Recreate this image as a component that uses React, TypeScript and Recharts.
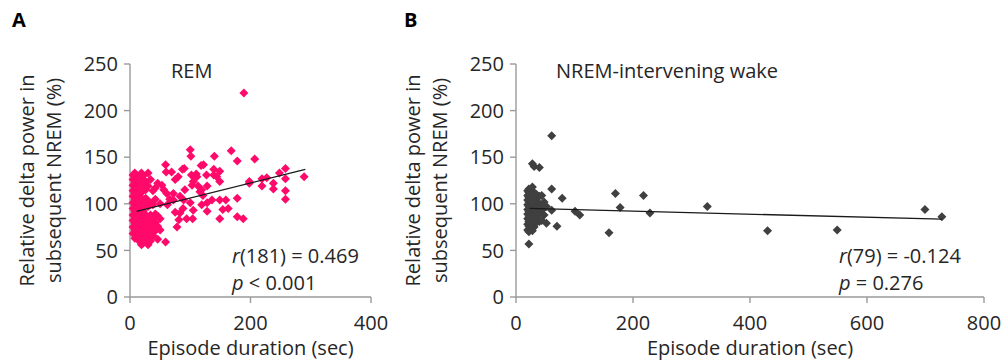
import { Scatter, ScatterChart, XAxis, YAxis } from "recharts";

const FONT = "'Open Sans', sans-serif";

// REM episodes: [duration (sec), relative delta power (%)]
const remPoints: [number, number][] = [
  [5, 68], [5, 75], [5, 82], [5, 88], [5, 95], [5, 101], [5, 108], [5, 114], [5, 120], [5, 126], [5, 131],
  [8, 63], [8, 72], [8, 79], [8, 86], [8, 92], [8, 98], [8, 104], [8, 111], [8, 117], [8, 123], [8, 129], [8, 133],
  [12, 66], [12, 77], [12, 84], [12, 90], [12, 96], [12, 102], [12, 107], [12, 113], [12, 119], [12, 125], [12, 130],
  [15, 60], [15, 70], [15, 80], [15, 87], [15, 93], [15, 99], [15, 105], [15, 110], [15, 116], [15, 122], [15, 128],
  [19, 56], [19, 64], [19, 74], [19, 83], [19, 89], [19, 95], [19, 101], [19, 106], [19, 112], [19, 118], [19, 126], [19, 133],
  [22, 58], [22, 68], [22, 78], [22, 86], [22, 92], [22, 98], [22, 104], [22, 121], [22, 130],
  [26, 62], [26, 72], [26, 80], [26, 88], [26, 100], [26, 106], [26, 115], [26, 124],
  [30, 56], [30, 66], [30, 76], [30, 84], [30, 97], [30, 103], [30, 119], [30, 133],
  [34, 60], [34, 70], [34, 81], [34, 88], [34, 101], [34, 126],
  [38, 66], [38, 75], [38, 85], [38, 99], [38, 114],
  [42, 71], [42, 80], [42, 89], [42, 105], [42, 117],
  [46, 62], [46, 76], [46, 87], [46, 122],
  [50, 72], [50, 84], [50, 100],
  [53, 120], [56, 115], [59, 142], [60, 134], [61, 111], [59, 59], [62, 99], [66, 105], [69, 134], [72, 111],
  [72, 104], [75, 126], [75, 91], [78, 75], [80, 129], [81, 83], [83, 90], [83, 108], [87, 137], [88, 95],
  [89, 104], [90, 138], [91, 115], [94, 84], [100, 101], [100, 158], [101, 151], [102, 131], [103, 120], [104, 84],
  [105, 93], [105, 124], [110, 132], [111, 129], [113, 119], [116, 113], [118, 141], [119, 99], [119, 115], [121, 109],
  [122, 142], [127, 131], [128, 119], [128, 101], [128, 92], [136, 104], [139, 137], [139, 131], [140, 151], [144, 129],
  [149, 135], [149, 124], [149, 104], [149, 84], [154, 94], [159, 104], [163, 95], [168, 157], [178, 146], [178, 106],
  [178, 86], [188, 84], [189, 219], [198, 124], [198, 122], [207, 148], [219, 127], [227, 128], [219, 119], [238, 122],
  [238, 116], [248, 133], [258, 138], [258, 127], [258, 114], [258, 105], [289, 129],
];

// NREM-intervening wake episodes
const wakePoints: [number, number][] = [
  [20, 72], [20, 78], [20, 84], [20, 89], [20, 94], [20, 99], [20, 104], [20, 109], [20, 114],
  [22, 57], [22, 70], [22, 76], [22, 81], [22, 87], [22, 92], [22, 97], [22, 102], [22, 107], [22, 112], [22, 116],
  [25, 73], [25, 80], [25, 86], [25, 91], [25, 96], [25, 100], [25, 105], [25, 110], [25, 115],
  [28, 71], [28, 78], [28, 84], [28, 90], [28, 95], [28, 101], [28, 107], [28, 118], [28, 143],
  [31, 75], [31, 82], [31, 88], [31, 94], [31, 99], [31, 104], [31, 112], [31, 140],
  [35, 80], [35, 86], [35, 92], [35, 97], [35, 103], [35, 110],
  [40, 81], [40, 89], [40, 95], [40, 100], [40, 108], [40, 139],
  [44, 82], [44, 93], [44, 98], [44, 109],
  [48, 88], [48, 96], [48, 102],
  [52, 79], [52, 97], [61, 93], [61, 116], [61, 173], [70, 76], [79, 106], [101, 92], [109, 88], [159, 69],
  [170, 111], [178, 96], [218, 109], [229, 90], [327, 97], [430, 71], [549, 72], [699, 94], [728, 86],
];

// regression line end points
const remFit = [{ x: 11, y: 92 }, { x: 291, y: 137 }];
const wakeFit = [{ x: 23, y: 95 }, { x: 728, y: 83.5 }];

const yTicks = [0, 50, 100, 150, 200, 250];
const remXTicks = [0, 200, 400];
const wakeXTicks = [0, 200, 400, 600, 800];

const remData = remPoints.map(([x, y]) => ({ x, y }));
const wakeData = wakePoints.map(([x, y]) => ({ x, y }));

function Diamond(props: any) {
  const { cx, cy, fill } = props;
  if (cx == null || cy == null) return null;
  const r = 4.5;
  return (
    <polygon
      points={`${cx},${cy - r} ${cx + r},${cy} ${cx},${cy + r} ${cx - r},${cy}`}
      fill={fill}
    />
  );
}

const NoDot = () => null;

const axisColor = "#9a9a9a";
const textColor = "#262626";
const FS = 20;

function Panel(props: any) {
  const {
    left, width, letter, letterX, title, titleX, data, fit, color,
    xTicks, xMax, plotLeft, plotRight, statX, rText, pText,
  } = props;
  const plotTop = 64;
  const plotBottom = 297;
  const midY = (plotTop + plotBottom) / 2;
  const midX = (plotLeft + (width - plotRight)) / 2;
  return (
    <div style={{ position: "absolute", left, top: 0, width, height: 360 }}>
      <ScatterChart
        width={width}
        height={360}
        margin={{ top: plotTop, right: plotRight, bottom: 0, left: 0 }}
      >
        <XAxis
          type="number"
          dataKey="x"
          domain={[0, xMax]}
          ticks={xTicks}
          height={63}
          tickSize={6}
          tickMargin={13}
          stroke={axisColor}
          strokeWidth={1.4}
          tick={{ fill: textColor, fontSize: FS, fontFamily: FONT }}
        />
        <YAxis
          type="number"
          dataKey="y"
          domain={[0, 250]}
          ticks={yTicks}
          width={plotLeft}
          tickSize={6}
          tickMargin={6}
          stroke={axisColor}
          strokeWidth={1.4}
          tick={{ fill: textColor, fontSize: FS, fontFamily: FONT }}
        />
        <Scatter
          data={data}
          fill={color}
          shape={<Diamond />}
          isAnimationActive={false}
        />
        <Scatter
          data={fit}
          line={{ stroke: "#1a1a1a", strokeWidth: 1.3 }}
          shape={<NoDot />}
          isAnimationActive={false}
        />
        <text x={letterX} y={27} fontSize={20} fontWeight="bold" fontFamily={FONT} fill="#000">
          {letter}
        </text>
        <text x={titleX} y={78} fontSize={FS} fontFamily={FONT} fill={textColor}>
          {title}
        </text>
        <text x={statX} y={263} fontSize={FS} fontFamily={FONT} fill={textColor}>
          <tspan fontStyle="italic">r</tspan>
          {rText}
        </text>
        <text x={statX} y={290} fontSize={FS} fontFamily={FONT} fill={textColor}>
          <tspan fontStyle="italic">p</tspan>
          {pText}
        </text>
        <text
          x={plotLeft - 104}
          y={midY}
          fontSize={FS}
          fontFamily={FONT}
          fill={textColor}
          textAnchor="middle"
          dominantBaseline="central"
          transform={`rotate(-90 ${plotLeft - 104} ${midY})`}
        >
          Relative delta power in
        </text>
        <text
          x={plotLeft - 77}
          y={midY}
          fontSize={FS}
          fontFamily={FONT}
          fill={textColor}
          textAnchor="middle"
          dominantBaseline="central"
          transform={`rotate(-90 ${plotLeft - 77} ${midY})`}
        >
          subsequent NREM (%)
        </text>
        <text x={midX} y={355} fontSize={FS} fontFamily={FONT} fill={textColor} textAnchor="middle">
          Episode duration (sec)
        </text>
      </ScatterChart>
    </div>
  );
}

export default function App() {
  return (
    <div style={{ position: "absolute", left: 0, top: 0, width: 1003, height: 360, background: "#fff" }}>
      <Panel
        left={0}
        width={400}
        letter="A"
        letterX={12}
        title="REM"
        titleX={171}
        data={remData}
        fit={remFit}
        color="#FF0A6A"
        xTicks={remXTicks}
        xMax={400}
        plotLeft={130}
        plotRight={29}
        statX={232}
        rText="(181) = 0.469"
        pText=" < 0.001"
      />
      <Panel
        left={400}
        width={603}
        letter="B"
        letterX={4}
        title="NREM-intervening wake"
        titleX={156}
        data={wakeData}
        fit={wakeFit}
        color="#404040"
        xTicks={wakeXTicks}
        xMax={800}
        plotLeft={116}
        plotRight={19}
        statX={439}
        rText="(79) = -0.124"
        pText=" = 0.276"
      />
    </div>
  );
}
